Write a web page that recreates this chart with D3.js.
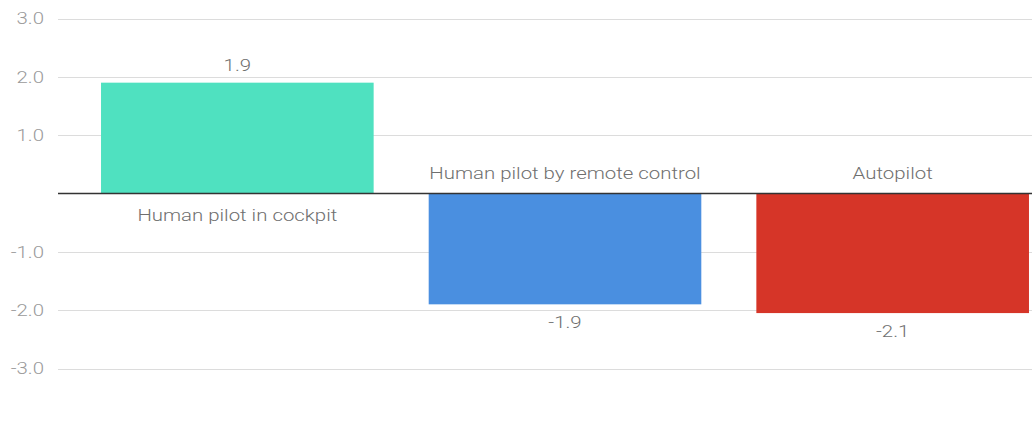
<!DOCTYPE html>
<html><head><meta charset="utf-8">
<script src="https://cdn.jsdelivr.net/npm/d3@7"></script>
<style>body{margin:0;background:#fff;}svg{display:block;font-family:Roboto,sans-serif;}</style>
</head><body><svg id="c" width="1032" height="423"></svg>
<script>
const categories = ["Human pilot in cockpit", "Human pilot by remote control", "Autopilot"];
const values = [1.9, -1.9, -2.05];
const valueLabels = ["1.9", "-1.9", "-2.1"];
const colors = ["#4fe1c0", "#4a8fe0", "#d63528"];
const tickValues = [3, 2, 1, -1, -2, -3];

const SX = 1.2; // horizontal stretch of text seen in the reference
const svg = d3.select("#c");
const y = d3.scaleLinear().domain([-3, 3]).range([368.5, 18.5]);
const x = d3.scaleBand().domain(categories).range([73.5, 1056.5]).paddingInner(0.168).paddingOuter(0.084);
const fmt = v => d3.format(".1f")(v).replace("\u2212", "-");

// gridlines
svg.append("g").selectAll("line").data(tickValues).join("line")
  .attr("x1", 58).attr("x2", 1032)
  .attr("y1", d => Math.round(y(d)) + 0.5).attr("y2", d => Math.round(y(d)) + 0.5)
  .attr("stroke", "#dcdcdc").attr("stroke-width", 1);

// axis labels
svg.append("g").selectAll("text").data(tickValues).join("text")
  .attr("transform", d => `translate(44,${y(d)}) scale(${SX},1)`)
  .attr("dy", "0.35em").attr("text-anchor", "end")
  .attr("fill", "#9a9a9a").style("font-size", "17px").style("font-weight", 300)
  .text(d => fmt(d));

// bars
svg.append("g").selectAll("rect").data(categories).join("rect")
  .attr("x", d => x(d)).attr("width", x.bandwidth())
  .attr("y", (d, i) => y(Math.max(0, values[i])))
  .attr("height", (d, i) => Math.abs(y(values[i]) - y(0)))
  .attr("fill", (d, i) => colors[i]);

// baseline
svg.append("line").attr("x1", 58).attr("x2", 1032)
  .attr("y1", y(0)).attr("y2", y(0)).attr("stroke", "#333").attr("stroke-width", 1.5);

// category labels
svg.append("g").selectAll("text").data(categories).join("text")
  .attr("transform", (d, i) => `translate(${x(d) + x.bandwidth() / 2},${values[i] >= 0 ? y(0) + 27 : y(0) - 15}) scale(${SX},1)`)
  .attr("text-anchor", "middle").attr("fill", "#6f6f6f").style("font-size", "17px").style("font-weight", 300)
  .text(d => d);

// value labels
svg.append("g").selectAll("text").data(categories).join("text")
  .attr("transform", (d, i) => `translate(${x(d) + x.bandwidth() / 2},${values[i] >= 0 ? y(values[i]) - 12 : y(values[i]) + 24}) scale(${SX},1)`)
  .attr("text-anchor", "middle").attr("fill", "#6f6f6f").style("font-size", "17px").style("font-weight", 300)
  .text((d, i) => valueLabels[i]);
</script></body></html>
